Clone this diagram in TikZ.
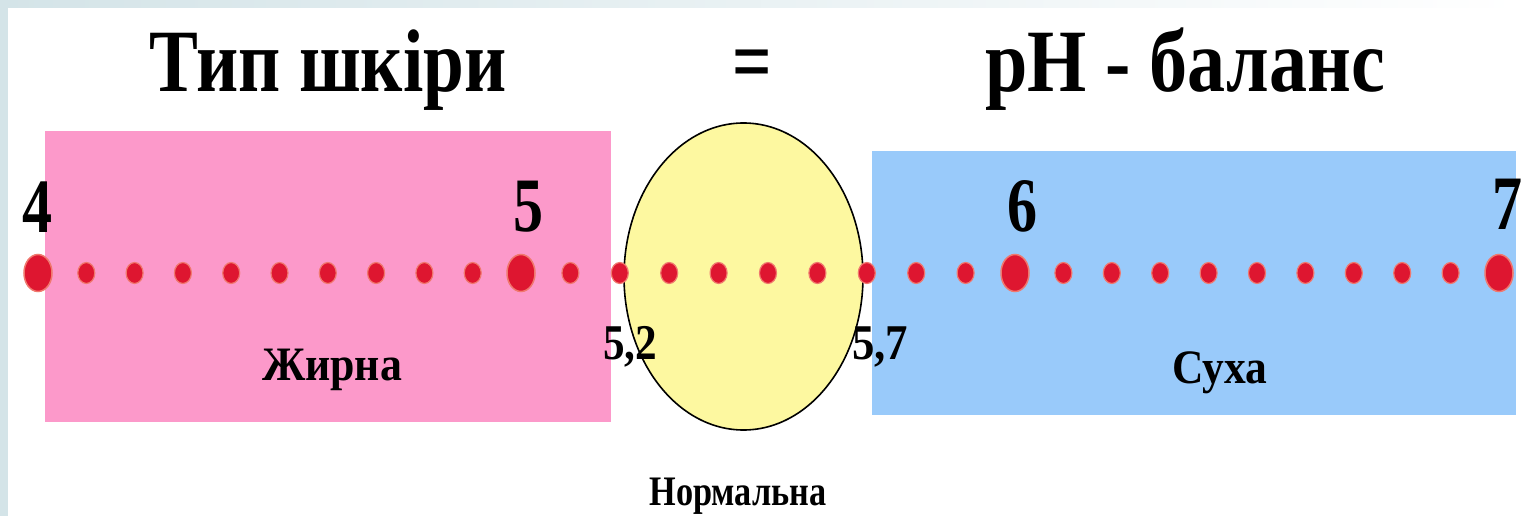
\documentclass[tikz,border=0pt]{standalone}
\usepackage{fontspec}
\setmainfont{Liberation Serif}
\usetikzlibrary{shapes.geometric}
\definecolor{pinkbox}{RGB}{252,153,202}
\definecolor{bluebox}{RGB}{153,202,250}
\definecolor{yellowov}{RGB}{253,248,160}
\definecolor{dotred}{RGB}{222,22,48}
\definecolor{dotglow}{RGB}{240,120,110}
\definecolor{frame}{RGB}{212,228,232}
\newcommand{\cz}[1]{\scalebox{0.78}[1]{#1}}
\newcommand{\fitw}[2]{\resizebox{#1}{\height}{#2}}
\tikzset{
  lbl/.style={inner sep=0pt, anchor=base, font=\bfseries},
  title/.style={lbl, font=\bfseries\fontsize{89}{89}\selectfont},
  tick/.style={lbl, font=\bfseries\fontsize{77}{77}\selectfont},
  val/.style={lbl, font=\bfseries\fontsize{50}{50}\selectfont},
  zone/.style={lbl, font=\bfseries\fontsize{48}{48}\selectfont},
  smalldot/.style={fill=dotred, draw=dotglow, line width=1.2pt},
  bigdot/.style={fill=dotred, draw=dotglow, line width=1.5pt}
}
\begin{document}
\begin{tikzpicture}[x=1pt,y=-1pt]
\useasboundingbox (0,0) rectangle (1521,516);
\clip (0,0) rectangle (1521,516);
\fill[white] (0,0) rectangle (1521,516);
\shade[left color=frame, right color=white] (0,0) rectangle (1521,8);
\fill[frame] (0,0) rectangle (8,516);
% zones
\node[fill=pinkbox, minimum width=566pt, minimum height=291pt, inner sep=0pt] (oily) at (328,276.5) {};
\node[fill=bluebox, minimum width=644pt, minimum height=264pt, inner sep=0pt] (dry) at (1194,283) {};
\node[ellipse, fill=yellowov, draw=black, line width=1.6pt, minimum width=239pt, minimum height=307pt, inner sep=0pt] (normal) at (743.5,276.5) {};
% scale dots
\foreach \i in {1,...,9} {
  \fill[smalldot] (38+\i*48.3,273) ellipse (8.5pt and 10.5pt);
  \fill[smalldot] (521+\i*49.4,273) ellipse (8.5pt and 10.5pt);
  \fill[smalldot] (1015+\i*48.4,273) ellipse (8.5pt and 10.5pt);
}
\foreach \x/\n in {38/d4,521/d5,1015/d6,1499/d7} {
  \fill[bigdot] (\x,273) ellipse (14pt and 18.5pt);
}
% titles
\node[title] (t1) at (328,92) {\fitw{357pt}{Тип шкіри}};
\node[title] (eq) at (752,92) {\cz{=}};
\node[title] (t2) at (1185,92) {\fitw{400pt}{рН - баланс}};
% tick labels
\node[tick] (l4) at (38,232) {\cz{4}};
\node[tick] (l5) at (529,231) {\cz{5}};
\node[tick] (l6) at (1023,231) {\cz{6}};
\node[tick] (l7) at (1507,229) {\cz{7}};
% boundary values
\node[val] (v52) at (630,359) {\fitw{54pt}{5,2}};
\node[val] (v57) at (880,359) {\fitw{56pt}{5,7}};
% zone names
\node[zone] (n1) at (332,380) {\fitw{140pt}{Жирна}};
\node[zone] (n2) at (1220,383) {\fitw{95pt}{Суха}};
\node[zone, font=\bfseries\fontsize{42}{42}\selectfont] (n3) at (738,505) {\fitw{177pt}{Нормальна}};
\end{tikzpicture}
\end{document}
